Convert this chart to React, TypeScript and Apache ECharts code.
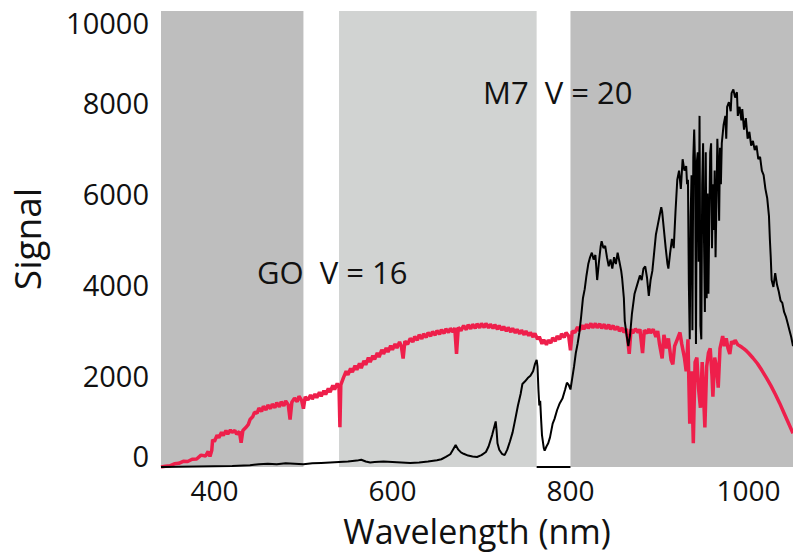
import React, { useEffect, useRef } from "react";
import * as echarts from "echarts";

// Wavelength (nm) vs. signal
const xTickValues = [400, 600, 800, 1000];
const filterBands = [
  [340, 500],
  [540, 762],
  [800, 1050],
];
const annotations = ["GO  V = 16", "M7  V = 20"];

// G0 star spectrum (red)
const g0Spectrum = [
  [340, 0], [345, 15], [350, 25], [355, 70], [360, 80], [365, 125], [370, 120], [375, 170], [380, 175], [385, 260],
  [390, 240], [393, 340], [395, 230], [397, 360], [398, 600], [400, 560], [403, 700], [405, 640], [408, 760], [410, 690],
  [413, 800], [415, 720], [418, 810], [420, 760], [423, 800], [425, 720], [428, 780], [430, 530], [432, 800], [435, 860],
  [438, 930], [440, 1040], [443, 1100], [445, 1200], [448, 1180], [450, 1290], [453, 1220], [455, 1330], [458, 1250], [460, 1360],
  [463, 1280], [465, 1380], [468, 1300], [470, 1410], [473, 1320], [475, 1430], [478, 1340], [480, 1450], [483, 1360], [485, 1040],
  [487, 1420], [490, 1510], [493, 1430], [495, 1550], [498, 1460], [500, 1280], [502, 1540], [505, 1470], [508, 1580], [510, 1490],
  [513, 1600], [515, 1520], [518, 1640], [520, 1550], [523, 1670], [525, 1590], [528, 1720], [530, 1640], [533, 1790], [535, 1700],
  [538, 1830], [540, 1740], [541, 870], [542, 1800], [545, 1960], [548, 2100], [550, 2020], [553, 2160], [555, 2080], [558, 2220],
  [560, 2130], [563, 2270], [565, 2170], [568, 2330], [570, 2240], [573, 2400], [575, 2300], [578, 2440], [580, 2360], [583, 2500],
  [585, 2410], [588, 2570], [590, 2480], [593, 2610], [595, 2520], [598, 2660], [600, 2570], [603, 2700], [605, 2610], [608, 2740],
  [610, 2650], [612, 2380], [614, 2760], [617, 2690], [620, 2820], [623, 2740], [625, 2860], [628, 2780], [630, 2900], [633, 2810],
  [635, 2920], [638, 2840], [640, 2950], [643, 2870], [645, 2970], [648, 2890], [650, 2990], [653, 2910], [655, 3010], [658, 2930],
  [660, 3030], [663, 2950], [665, 3040], [668, 2960], [670, 3050], [672, 2480], [674, 3060], [677, 2990], [680, 3100], [683, 3010],
  [685, 3120], [688, 3030], [690, 3130], [693, 3040], [695, 3140], [698, 3050], [700, 3150], [703, 3060], [705, 3150], [708, 3050],
  [710, 3130], [713, 3040], [715, 3120], [718, 3020], [720, 3100], [723, 3000], [725, 3080], [728, 2980], [730, 3060], [733, 2960],
  [735, 3040], [738, 2940], [740, 3020], [743, 2920], [745, 3000], [748, 2900], [750, 2980], [753, 2880], [755, 2950], [758, 2850],
  [760, 2930], [763, 2800], [765, 2860], [768, 2700], [770, 2790], [773, 2680], [775, 2780], [778, 2720], [780, 2830], [783, 2760],
  [785, 2870], [788, 2800], [790, 2920], [793, 2840], [795, 2950], [798, 2870], [800, 2560], [802, 2980], [805, 2950], [808, 3070],
  [810, 2990], [813, 3110], [815, 3020], [818, 3130], [820, 3040], [823, 3150], [825, 3050], [828, 3150], [830, 3050], [833, 3140],
  [835, 3040], [838, 3130], [840, 3030], [843, 3120], [845, 3020], [848, 3100], [850, 3010], [853, 3080], [855, 2980], [858, 3050],
  [860, 2950], [863, 3030], [866, 2480], [868, 3020], [870, 2940], [873, 3030], [876, 2950], [878, 3020], [881, 2500], [883, 3000],
  [886, 2930], [888, 3030], [890, 2940], [893, 3020], [896, 2850], [898, 2980], [900, 2700], [903, 2380], [905, 2900], [908, 2600],
  [910, 2820], [913, 2350], [915, 2250], [917, 2650], [920, 2800], [923, 2950], [925, 2700], [928, 2400], [930, 2100], [932, 2800],
  [934, 950], [936, 2100], [938, 520], [940, 2300], [942, 2400], [944, 1700], [946, 1300], [948, 2300], [951, 870], [953, 2200],
  [955, 2500], [957, 2600], [959, 2000], [960, 1540], [962, 2400], [964, 2200], [966, 1740], [968, 2600], [971, 2870], [973, 2650],
  [975, 2820], [977, 2600], [979, 2480], [981, 2760], [983, 2700], [985, 2780], [988, 2680], [990, 2660], [993, 2620], [995, 2590],
  [998, 2540], [1000, 2500], [1005, 2390], [1010, 2270], [1015, 2120], [1020, 1960], [1025, 1790], [1030, 1600], [1035, 1400], [1040, 1180],
  [1045, 960], [1050, 740],
];

// M7 star spectrum (black)
const m7Spectrum = [
  [340, 0], [360, 5], [380, 10], [400, 15], [420, 20], [440, 40], [450, 60], [460, 70], [470, 60], [480, 80],
  [490, 70], [500, 60], [510, 80], [520, 90], [530, 100], [540, 110], [550, 120], [560, 140], [565, 160], [570, 120],
  [575, 100], [580, 110], [590, 120], [600, 110], [610, 100], [620, 90], [630, 100], [640, 120], [650, 150], [655, 170],
  [660, 220], [665, 280], [668, 380], [671, 480], [674, 380], [677, 320], [680, 290], [685, 250], [690, 230], [695, 220],
  [700, 260], [705, 330], [708, 450], [712, 700], [714, 850], [716, 1000], [717, 800], [718, 520], [720, 380], [723, 290],
  [726, 260], [729, 380], [732, 560], [735, 760], [738, 1050], [741, 1350], [744, 1600], [746, 1820], [749, 1880], [752, 1950],
  [755, 2000], [758, 2100], [760, 2250], [762, 2350], [763, 2200], [764, 1700], [765, 1350], [766, 1450], [767, 1050], [768, 700],
  [770, 420], [771, 360], [773, 450], [775, 520], [777, 650], [780, 950], [782, 1050], [785, 1250], [788, 1400], [791, 1500],
  [794, 1700], [796, 1850], [798, 1800], [800, 1700], [802, 1950], [804, 2200], [806, 2500], [808, 2700], [810, 2950], [812, 3300],
  [814, 3700], [816, 3900], [818, 4200], [820, 4450], [822, 4600], [824, 4700], [826, 4550], [828, 4650], [830, 4100], [832, 4500],
  [834, 4850], [835, 4950], [837, 4800], [839, 4850], [841, 4600], [843, 4400], [845, 4550], [847, 4350], [849, 4600], [851, 4450],
  [853, 4700], [855, 4500], [857, 4300], [858, 4150], [860, 3700], [861, 3200], [863, 2900], [865, 2650], [867, 2900], [869, 3350],
  [872, 3800], [875, 4000], [878, 4200], [880, 4100], [882, 4350], [884, 4400], [886, 4150], [888, 3750], [890, 4100], [892, 4300],
  [894, 4700], [896, 5100], [898, 5300], [900, 5500], [902, 5700], [903, 5600], [905, 5200], [907, 4800], [909, 4450], [910, 4350],
  [912, 4700], [914, 5000], [916, 4800], [918, 5600], [920, 6300], [922, 6500], [924, 6100], [926, 6750], [928, 6500], [930, 6600],
  [931, 6200], [932, 6300], [933, 4000], [934, 2800], [935, 5500], [936, 6400], [937, 3000], [938, 6800], [939, 7400], [940, 6600],
  [941, 2700], [942, 6700], [943, 6900], [944, 4500], [945, 7700], [946, 3100], [947, 2800], [948, 6200], [949, 7100], [950, 5000],
  [951, 3400], [952, 6900], [953, 3700], [954, 6000], [955, 3800], [956, 5500], [957, 6900], [958, 7100], [959, 4800], [960, 6200],
  [961, 5200], [962, 6500], [963, 4600], [964, 5800], [965, 7200], [966, 6600], [967, 5400], [968, 7000], [969, 6200], [970, 7100],
  [972, 7500], [974, 7700], [975, 7200], [976, 7900], [978, 8000], [980, 7800], [981, 8200], [983, 8280], [985, 8100], [987, 8220],
  [988, 7700], [990, 7900], [992, 7600], [993, 7850], [995, 7400], [997, 7650], [999, 7200], [1001, 7350], [1003, 7050], [1005, 7150],
  [1007, 6950], [1009, 7050], [1011, 6750], [1013, 6800], [1015, 6500], [1017, 6400], [1019, 6100], [1021, 5900], [1023, 5500], [1024, 5000],
  [1025, 4600], [1026, 4100], [1028, 3950], [1030, 4250], [1032, 4000], [1034, 3850], [1036, 3650], [1038, 3600], [1040, 3400], [1042, 3300],
  [1044, 3150], [1046, 3000], [1048, 2850], [1050, 2650],
];

const bandColors = ["#bebebe", "#d1d3d2", "#bebebe"];
const FONT = "'Open Sans', 'Noto Sans', sans-serif";

export default function App() {
  const ref = useRef<HTMLDivElement>(null);
  useEffect(() => {
    if (!ref.current) return;
    const chart = echarts.init(ref.current, undefined, { renderer: "svg" });
    const tickFont = { fontSize: 29, fontFamily: FONT, color: "#111", lineHeight: 30 };
    chart.setOption({
      animation: false,
      backgroundColor: "#ffffff",
      grid: {
        left: 161,
        right: 0,
        top: 11,
        bottom: 88,
        containLabel: false,
        outerBoundsMode: "none",
      },
      xAxis: {
        type: "value",
        min: 340,
        max: 1050,
        name: "Wavelength (nm)",
        nameLocation: "middle",
        nameGap: 47,
        nameTextStyle: { fontSize: 34, fontFamily: FONT, color: "#111", lineHeight: 34 },
        axisLine: { show: false },
        axisTick: { show: false },
        splitLine: { show: false },
        axisLabel: {
          ...tickFont,
          fontSize: 28,
          margin: 8,
          customValues: xTickValues,
          formatter: (v: number) => String(v),
        },
      },
      yAxis: {
        type: "value",
        min: 0,
        max: 10000,
        interval: 2000,
        name: "Signal",
        nameLocation: "middle",
        nameGap: 117,
        nameTextStyle: { fontSize: 37, fontFamily: FONT, color: "#111", lineHeight: 36 },
        axisLine: { show: false },
        axisTick: { show: false },
        splitLine: { show: false },
        axisLabel: {
          ...tickFont,
          margin: 12,
          formatter: (v: number) =>
            v === 0 ? `{lo|${v}}` : v === 10000 ? `{hi|${v}}` : `{n|${v}}`,
          rich: {
            n: { ...tickFont },
            lo: { ...tickFont, padding: [0, 0, 24, 0] },
            hi: { ...tickFont, padding: [22, 0, 0, 0] },
          },
        },
      },
      graphic: [
        {
          type: "text",
          x: 257,
          y: 272,
          style: {
            text: annotations[0],
            fontSize: 31,
            fontFamily: FONT,
            fill: "#111",
            verticalAlign: "middle",
            align: "left",
          },
          z: 10,
        },
        {
          type: "text",
          x: 483,
          y: 92,
          style: {
            text: annotations[1],
            fontSize: 31,
            fontFamily: FONT,
            fill: "#111",
            verticalAlign: "middle",
            align: "left",
          },
          z: 10,
        },
      ],
      series: [
        {
          type: "line",
          name: "bands",
          data: [],
          z: 0,
          silent: true,
          markArea: {
            silent: true,
            data: filterBands.map((b, i) => [
              { xAxis: b[0], itemStyle: { color: bandColors[i], opacity: 1 } },
              { xAxis: b[1] },
            ]),
          },
        },
        {
          type: "line",
          name: "G0",
          data: g0Spectrum,
          showSymbol: false,
          z: 2,
          lineStyle: { color: "#ee1f4b", width: 3.5 },
          itemStyle: { color: "#ee1f4b" },
        },
        {
          type: "line",
          name: "M7",
          data: m7Spectrum,
          showSymbol: false,
          z: 3,
          lineStyle: { color: "#000000", width: 2 },
          itemStyle: { color: "#000000" },
          markLine: {
            silent: true,
            symbol: "none",
            label: { show: false },
            lineStyle: { color: "#000", width: 2, type: "solid" },
            data: [[{ coord: [762, 0] }, { coord: [800, 0] }]],
          },
        },
      ],
    });
    return () => chart.dispose();
  }, []);
  return (
    <div
      ref={ref}
      style={{ position: "absolute", left: 0, top: 0, width: 793, height: 555 }}
    />
  );
}
